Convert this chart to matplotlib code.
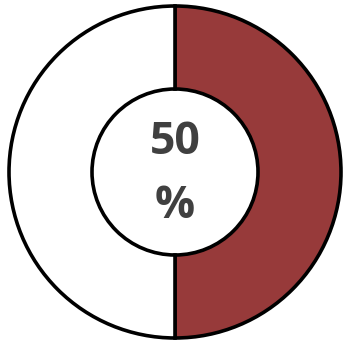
import matplotlib
matplotlib.use("Agg")
import matplotlib.pyplot as plt

values = [50, 50]
colors = ["#973A3A", "#FFFFFF"]
center_label = "50"
unit_label = "%"

W, H = 344, 342
fig = plt.figure(figsize=(W / 100, H / 100), dpi=100)
ax = fig.add_axes([0, 0, 1, 1])
ax.set_xlim(0, W)
ax.set_ylim(0, H)
ax.set_aspect("equal")
ax.axis("off")

cx, cy = 175, H - 172
R = 166
ax.pie(values, colors=colors, startangle=90, counterclock=False,
       center=(cx, cy), radius=R, frame=True,
       wedgeprops=dict(width=R - 83, edgecolor="black", linewidth=2.6))
ax.set_xlim(0, W)
ax.set_ylim(0, H)
ax.axis("off")

ax.text(cx, H - 142, center_label, ha="center", va="center", fontsize=32,
        fontweight="bold", color="#404040", family="Open Sans")
ax.text(cx, H - 206, unit_label, ha="center", va="center", fontsize=32,
        fontweight="bold", color="#404040", family="Open Sans")

fig.savefig("out.png", dpi=100)
